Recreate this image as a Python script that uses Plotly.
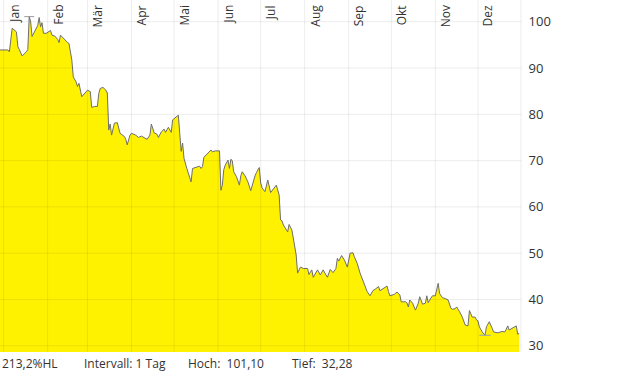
import plotly.graph_objects as go
import pandas as pd

dates = ["2021-12-28","2022-01-04","2022-01-05","2022-01-07","2022-01-10","2022-01-11","2022-01-12","2022-01-14",
"2022-01-17","2022-01-18","2022-01-19","2022-01-20","2022-01-21","2022-01-24","2022-01-25","2022-01-26","2022-01-27",
"2022-01-28","2022-01-29","2022-01-31","2022-02-02","2022-02-03","2022-02-04","2022-02-06","2022-02-08","2022-02-09",
"2022-02-10","2022-02-12","2022-02-13","2022-02-15","2022-02-16","2022-02-18","2022-02-19","2022-02-21","2022-02-22",
"2022-02-23","2022-02-25","2022-02-27","2022-03-01","2022-03-03","2022-03-04","2022-03-06","2022-03-08","2022-03-09",
"2022-03-10","2022-03-12","2022-03-14","2022-03-15","2022-03-16","2022-03-17","2022-03-18","2022-03-20","2022-03-22",
"2022-03-24","2022-03-26","2022-03-27","2022-03-28","2022-03-29","2022-03-31","2022-04-01","2022-04-04","2022-04-06",
"2022-04-08","2022-04-10","2022-04-12","2022-04-14","2022-04-15","2022-04-17","2022-04-19","2022-04-20","2022-04-22",
"2022-04-24","2022-04-25","2022-04-27","2022-04-28","2022-04-29","2022-04-30","2022-05-02","2022-05-04","2022-05-05",
"2022-05-06","2022-05-07","2022-05-08","2022-05-10","2022-05-13","2022-05-14","2022-05-17","2022-05-19","2022-05-20",
"2022-05-21","2022-05-22","2022-05-24","2022-05-26","2022-05-27","2022-05-28","2022-05-30","2022-06-02","2022-06-03",
"2022-06-04","2022-06-05","2022-06-06","2022-06-08","2022-06-09","2022-06-10","2022-06-11","2022-06-12","2022-06-14",
"2022-06-16","2022-06-17","2022-06-18","2022-06-20","2022-06-22","2022-06-24","2022-06-25","2022-06-27","2022-06-28",
"2022-06-30","2022-07-01","2022-07-02","2022-07-04","2022-07-06","2022-07-08","2022-07-10","2022-07-12","2022-07-14",
"2022-07-15","2022-07-16","2022-07-17","2022-07-20","2022-07-21","2022-07-23","2022-07-24","2022-07-26","2022-07-27",
"2022-07-29","2022-07-31","2022-08-03","2022-08-04","2022-08-06","2022-08-07","2022-08-09","2022-08-10","2022-08-12",
"2022-08-14","2022-08-16","2022-08-17","2022-08-19","2022-08-21","2022-08-23","2022-08-24","2022-08-25","2022-08-27",
"2022-08-29","2022-08-31","2022-09-02","2022-09-04","2022-09-05","2022-09-07","2022-09-09","2022-09-12","2022-09-14",
"2022-09-16","2022-09-18","2022-09-20","2022-09-22","2022-09-23","2022-09-26","2022-09-28","2022-09-29","2022-09-30",
"2022-10-03","2022-10-05","2022-10-07","2022-10-08","2022-10-11","2022-10-12","2022-10-13","2022-10-14","2022-10-16",
"2022-10-18","2022-10-20","2022-10-21","2022-10-23","2022-10-25","2022-10-26","2022-10-27","2022-10-28","2022-10-30",
"2022-11-01","2022-11-03","2022-11-04","2022-11-06","2022-11-08","2022-11-10","2022-11-12","2022-11-13","2022-11-15",
"2022-11-16","2022-11-18","2022-11-20","2022-11-22","2022-11-24","2022-11-25","2022-11-27","2022-11-29","2022-11-30",
"2022-12-01","2022-12-02","2022-12-04","2022-12-06","2022-12-07","2022-12-09","2022-12-11","2022-12-12","2022-12-15",
"2022-12-18","2022-12-20","2022-12-22","2022-12-23","2022-12-26","2022-12-28","2022-12-29","2022-12-30"]

values = [93.9,93.9,93.5,98.6,97.8,94.6,94.0,92.6,
93.5,94.0,101.10,100.0,96.8,98.6,99.2,100.9,98.9,
99.8,97.5,97.5,97.8,98.1,97.1,96.9,96.2,95.5,
97.1,96.4,96.0,95.5,95.3,91.7,88.1,87.0,86.0,
86.7,83.8,84.4,85.2,84.9,81.5,81.7,81.7,84.5,
85.6,85.8,85.2,84.6,76.6,77.9,75.5,78.1,78.2,
75.9,75.5,75.2,74.6,73.4,75.5,75.9,75.5,75.0,
75.3,75.0,74.6,75.5,77.9,76.0,75.7,75.0,76.2,
76.8,76.1,77.2,76.6,76.1,78.8,79.4,79.8,75.9,
72.0,73.8,70.5,68.3,65.4,68.3,68.7,68.8,68.3,
68.7,70.7,71.4,71.9,72.3,71.9,72.1,72.1,63.6,
64.7,68.0,69.0,70.1,68.3,70.3,70.0,67.6,66.5,
64.7,66.7,67.6,66.7,65.4,63.5,64.7,66.7,67.4,
68.5,65.2,64.1,63.3,65.8,63.1,64.0,64.7,62.6,
57.2,57.0,56.1,54.6,56.2,55.0,52.9,49.6,45.7,
47.0,46.7,46.7,45.4,46.4,44.8,45.7,46.4,45.3,
46.4,45.3,44.8,46.5,45.8,46.7,48.9,48.3,49.5,
48.5,47.0,50.0,50.1,49.2,47.8,45.7,43.5,41.7,
40.8,41.9,42.3,42.8,41.9,42.4,42.9,41.7,40.8,
41.1,41.6,41.0,39.5,39.5,39.3,38.4,39.9,39.2,
37.7,39.2,40.6,39.0,39.2,40.8,39.3,39.9,40.8,
40.8,43.5,41.3,40.4,40.2,39.9,38.1,37.9,38.0,
38.4,37.4,36.2,34.5,34.3,37.6,36.2,36.2,35.6,
35.4,34.1,33.0,32.28,34.1,35.2,33.8,33.0,32.8,
33.1,33.0,34.3,33.4,33.9,34.3,32.5,32.7]

month_starts = ["2022-01-01","2022-02-01","2022-03-01","2022-04-01","2022-05-01","2022-06-01",
                "2022-07-01","2022-08-01","2022-09-01","2022-10-01","2022-11-01","2022-12-01"]
month_labels = ["Jan","Feb","Mär","Apr","Mai","Jun","Jul","Aug","Sep","Okt","Nov","Dez"]
y_ticks = [30, 40, 50, 60, 70, 80, 90, 100]

x_range = ["2021-12-29 10:00", "2022-12-31 08:00"]
y_range = [28.66, 104.69]

FONT = "Open Sans"
TXT = "#333333"

ser = pd.Series(values, index=pd.to_datetime(dates))
hi_val, hi_date = ser.max(), ser.idxmax()
lo_val, lo_date = ser.min(), ser.idxmin()

fig = go.Figure()
fig.add_trace(go.Scatter(x=dates, y=values, mode="lines", fill="tozeroy",
                         fillcolor="#FFF200", line=dict(color="#6e6e6e", width=1),
                         hoverinfo="skip", showlegend=False))

# high / low markers
d = pd.Timedelta(days=3.5)
fig.add_trace(go.Scatter(x=[hi_date - d, hi_date + d], y=[hi_val, hi_val], mode="lines",
                         line=dict(color="#9a9a9a", width=1), showlegend=False, hoverinfo="skip"))
d2 = pd.Timedelta(days=4)
fig.add_trace(go.Scatter(x=[lo_date - d2, lo_date + d2], y=[lo_val, lo_val], mode="lines",
                         line=dict(color="#8f9fc8", width=1), showlegend=False, hoverinfo="skip"))

shapes = []
for m in month_starts:
    shapes.append(dict(type="line", xref="x", yref="paper", x0=m, x1=m, y0=0, y1=1,
                       line=dict(color="rgba(0,0,0,0.075)", width=1), layer="above"))
for t in y_ticks:
    shapes.append(dict(type="line", xref="paper", yref="y", x0=0, x1=1, y0=t, y1=t,
                       line=dict(color="rgba(0,0,0,0.075)", width=1), layer="above"))
shapes.append(dict(type="line", xref="paper", yref="paper", x0=1, x1=1, y0=0, y1=1,
                   line=dict(color="rgba(0,0,0,0.075)", width=1), layer="above"))

annotations = []
for m, lab in zip(month_starts, month_labels):
    annotations.append(dict(x=m, y=1, xref="x", yref="paper", text=lab, showarrow=False,
                            textangle=-90, xanchor="center", yanchor="top", xshift=10, yshift=-3,
                            font=dict(family=FONT, size=12, color=TXT)))

fmt = lambda v: f"{v:.2f}".replace(".", ",")
span = (hi_val / lo_val - 1) * 100
bottom_texts = [f"{span:.1f}".replace(".", ",") + "%HL", "Intervall: 1 Tag",
                "Hoch:  " + fmt(hi_val), "Tief:  " + fmt(lo_val)]
bottom_x = [0, 82, 186, 290]
for t, px in zip(bottom_texts, bottom_x):
    annotations.append(dict(x=px / 521, y=0, xref="paper", yref="paper", text=t.replace("  ", "&nbsp; "),
                            showarrow=False, xanchor="left", yanchor="middle", yshift=-11,
                            font=dict(family=FONT, size=12, color=TXT)))

fig.update_layout(
    width=620, height=372, margin=dict(l=0, r=99, t=0, b=20),
    paper_bgcolor="white", plot_bgcolor="white",
    xaxis=dict(type="date", range=x_range, showgrid=False, showticklabels=False, zeroline=False,
               showline=False, ticks=""),
    yaxis=dict(side="right", range=y_range, tickvals=y_ticks, showgrid=False, zeroline=False,
               ticks="outside", ticklen=4, tickcolor="rgba(0,0,0,0)",
               tickfont=dict(family=FONT, size=13, color=TXT)),
    shapes=shapes, annotations=annotations, showlegend=False,
)

fig.write_html("out.html")
